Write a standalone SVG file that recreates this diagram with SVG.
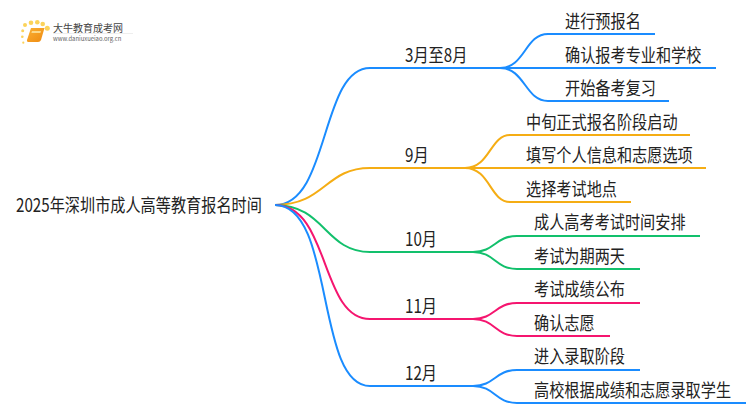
<svg xmlns="http://www.w3.org/2000/svg" width="750" height="410" viewBox="0 0 750 410">
<defs>
<style>
text{font-family:"Noto Sans CJK SC","Noto Sans",sans-serif;font-size:18.5px;fill:#222}
.c{fill:none;stroke-width:2}
.b{stroke:#1a8cff}.o{stroke:#f5ad14}.g{stroke:#12c06c}.p{stroke:#f5156f}
.s{fill:#fbd35a}
</style>
<linearGradient id="bk" x1="0" y1="0" x2="1" y2="1"><stop offset="0" stop-color="#fbb034"/><stop offset="1" stop-color="#ee8a10"/></linearGradient>
</defs>
<rect width="750" height="410" fill="#fff"/>
<g id="logo">
<circle class="s" cx="25" cy="25" r="2"/><circle class="s" cx="31" cy="22.700" r="2.300"/><circle class="s" cx="37.300" cy="22.300" r="2.300"/><circle class="s" cx="42.700" cy="24" r="2.300"/><circle class="s" cx="47.300" cy="28.300" r="2.500"/>
<circle class="s" cx="22.700" cy="30.700" r="1.500"/><circle class="s" cx="22.300" cy="36.700" r="1.300"/><circle class="s" cx="23.300" cy="42.700" r="1.100"/>
<path d="M31 28h13.500l-3.500 12q-.7 2-3 2H29q-2.500 0-2-2Z" fill="url(#bk)"/>
<path d="M32 31h9l-.6 2h-9Z" fill="#fbd98a"/>
<text x="53" y="32" style="font-size:10px;fill:#444">大牛教育成考网</text>
<text x="53" y="41" style="font-size:5.900px;fill:#666">www.daniuxueiao.org.cn</text>
<path d="M53 33.500H133" stroke="#eee" stroke-width="1"/>
</g>
<g id="connectors">
<path class="c b" d="M275 205C330 205 320 68 370 68H500"/>
<path class="c b" d="M500 68C525 68 525 34 548 34H655"/>
<path class="c b" d="M500 68H716"/>
<path class="c b" d="M500 68C525 68 525 101 548 101H669"/>
<path class="c o" d="M275 205C325 205 325 168 370 168H465"/>
<path class="c o" d="M465 168C490 168 490 135 510 135H690"/>
<path class="c o" d="M465 168H706"/>
<path class="c o" d="M465 168C490 168 490 202 510 202H631"/>
<path class="c g" d="M275 205C325 205 325 252 370 252H473"/>
<path class="c g" d="M473 252C495 252 495 236 517 236H700"/>
<path class="c g" d="M473 252C495 252 495 269 517 269H640"/>
<path class="c p" d="M275 205C330 205 320 319 370 319H473"/>
<path class="c p" d="M473 319C495 319 495 303 517 303H640"/>
<path class="c p" d="M473 319C495 319 495 336 517 336H610"/>
<path class="c b" d="M275 205C335 205 315 386 370 386H473"/>
<path class="c b" d="M473 386C495 386 495 403 517 403H746"/>
<path class="c b" d="M473 386C495 386 495 370 517 370H640"/>
</g>
<g id="root"><text transform="translate(16 212) scale(.82 1)">2025年深圳市成人高等教育报名时间</text></g>
<g id="n1"><text transform="translate(405 62) scale(.82 1)">3月至8月</text></g>
<g id="n1a"><text transform="translate(565 28) scale(.82 1)">进行预报名</text></g>
<g id="n1b"><text transform="translate(565 62) scale(.82 1)">确认报考专业和学校</text></g>
<g id="n1c"><text transform="translate(565 95) scale(.82 1)">开始备考复习</text></g>
<g id="n2"><text transform="translate(405 162) scale(.82 1)">9月</text></g>
<g id="n2a"><text transform="translate(526 129) scale(.82 1)">中旬正式报名阶段启动</text></g>
<g id="n2b"><text transform="translate(526 162) scale(.82 1)">填写个人信息和志愿选项</text></g>
<g id="n2c"><text transform="translate(526 196) scale(.82 1)">选择考试地点</text></g>
<g id="n3"><text transform="translate(405 246) scale(.82 1)">10月</text></g>
<g id="n3a"><text transform="translate(534 229) scale(.82 1)">成人高考考试时间安排</text></g>
<g id="n3b"><text transform="translate(534 263) scale(.82 1)">考试为期两天</text></g>
<g id="n4"><text transform="translate(405 313) scale(.82 1)">11月</text></g>
<g id="n4a"><text transform="translate(534 296) scale(.82 1)">考试成绩公布</text></g>
<g id="n4b"><text transform="translate(534 330) scale(.82 1)">确认志愿</text></g>
<g id="n5"><text transform="translate(405 380) scale(.82 1)">12月</text></g>
<g id="n5a"><text transform="translate(534 363) scale(.82 1)">进入录取阶段</text></g>
<g id="n5b"><text transform="translate(534 397) scale(.82 1)">高校根据成绩和志愿录取学生</text></g>
</svg>
